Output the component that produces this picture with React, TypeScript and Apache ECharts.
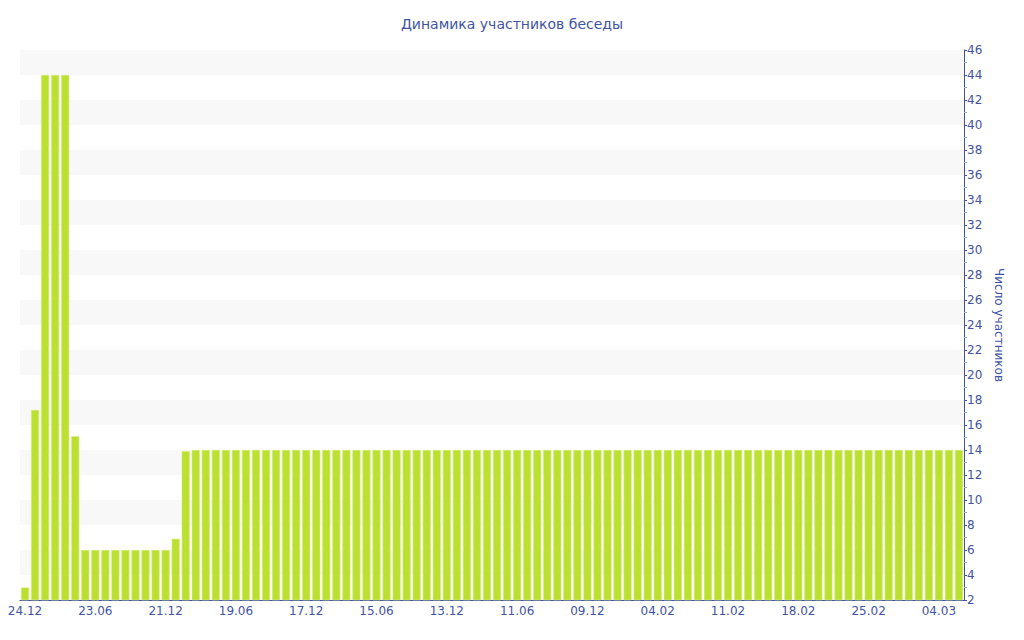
import React, { useEffect, useRef } from "react";
import * as echarts from "echarts";

const tickLabels = [
  "24.12", "23.06", "21.12", "19.06", "17.12", "15.06", "13.12",
  "11.06", "09.12", "04.02", "11.02", "18.02", "25.02", "04.03",
];
const labelStep = 7;

const earlyValues = [3, 17.2, 44, 44, 44, 15.1, 6, 6, 6, 6, 6, 6, 6, 6, 6, 6.9, 13.9];
const plateauValue = 14;
const plateauCount = 77;

const values: number[] = [...earlyValues, ...Array(plateauCount).fill(plateauValue)];
const categories: string[] = values.map((_, i) =>
  i % labelStep === 0 ? tickLabels[i / labelStep] ?? "" : ""
);

const BLUE = "#3f54a2";

export default function App() {
  const ref = useRef<HTMLDivElement>(null);
  useEffect(() => {
    if (!ref.current) return;
    const chart = echarts.init(ref.current, undefined, { renderer: "svg" });
    chart.setOption({
      animation: false,
      textStyle: { fontFamily: "DejaVu Sans" },
      title: {
        text: "Динамика участников беседы",
        left: "center",
        top: 12,
        textStyle: { color: BLUE, fontSize: 14, fontWeight: "normal", fontFamily: "DejaVu Sans" },
      },
      grid: { left: 20, right: 60, top: 50, bottom: 40, containLabel: false },
      xAxis: {
        type: "category",
        data: categories,
        boundaryGap: true,
        axisLine: { lineStyle: { color: BLUE, width: 1 } },
        axisTick: {
          alignWithLabel: true,
          length: 3,
          lineStyle: { color: BLUE },
          interval: (i: number) => i % labelStep === 0,
        },
        axisLabel: {
          interval: (i: number) => i % labelStep === 0,
          color: BLUE,
          fontSize: 12,
          margin: 5,
          fontFamily: "DejaVu Sans",
        },
        splitLine: { show: false },
      },
      yAxis: {
        type: "value",
        position: "right",
        min: 2,
        max: 46,
        interval: 2,
        name: "Число участников",
        nameLocation: "middle",
        nameRotate: -90,
        nameGap: 28,
        nameTextStyle: { color: BLUE, fontSize: 12, fontFamily: "DejaVu Sans" },
        axisLine: { show: true, lineStyle: { color: BLUE, width: 1 } },
        axisTick: { show: true, length: 3, lineStyle: { color: BLUE } },
        minorTick: { show: true, splitNumber: 2, length: 3, lineStyle: { color: "#aaaaaa" } },
        axisLabel: { color: BLUE, fontSize: 12, margin: 3, fontFamily: "DejaVu Sans" },
        splitLine: { show: false },
        splitArea: { show: true, areaStyle: { color: ["#ffffff", "#f8f8f8"] } },
      },
      series: [
        {
          type: "bar",
          data: values,
          barCategoryGap: "20%",
          itemStyle: { color: "#bce030", borderColor: "#d4ec7c", borderWidth: 0.6 },
        },
      ],
    });
    return () => chart.dispose();
  }, []);
  return <div ref={ref} style={{ width: 1024, height: 640, position: "absolute", left: 0, top: 0 }} />;
}
